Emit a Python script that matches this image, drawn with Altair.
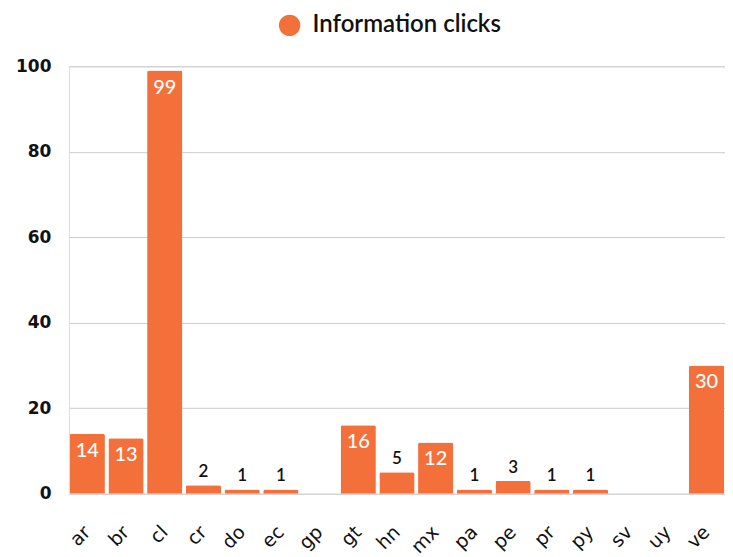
import altair as alt
import pandas as pd

countries = ["ar", "br", "cl", "cr", "do", "ec", "gp", "gt", "hn", "mx", "pa", "pe", "pr", "py", "sv", "uy", "ve"]
clicks = [14, 13, 99, 2, 1, 1, 0, 16, 5, 12, 1, 3, 1, 1, 0, 0, 30]
series = "Information clicks"

df = pd.DataFrame({"country": countries, "clicks": clicks, "series": series})

FONT = "Lato"
AXFONT = "DejaVu Sans"
ORANGE = "#F4703A"

x = alt.X("country:N", sort=countries, title=None,
          scale=alt.Scale(paddingInner=0.09, paddingOuter=0.02),
          axis=alt.Axis(labelAngle=-45, labelFontSize=19, labelColor="#111",
                        labelFont=AXFONT, labelPadding=35, ticks=False, domain=False,
                        labelAlign="right", labelBaseline="middle"))
y = alt.Y("clicks:Q", title=None, scale=alt.Scale(domain=[0, 100]),
          axis=alt.Axis(values=[0, 20, 40, 60, 80, 100], labelFontSize=17, labelFontWeight="bold",
                        labelFont=AXFONT, labelColor="#111", labelPadding=18, ticks=False,
                        domain=False, gridColor="#cccccc"))

bars = alt.Chart(df).mark_bar(cornerRadiusTopLeft=2, cornerRadiusTopRight=2).encode(
    x=x, y=y,
    color=alt.Color("series:N", scale=alt.Scale(range=[ORANGE]), title=None,
                    legend=alt.Legend(orient="none", legendX=209, legendY=-53,
                                      symbolType="circle", symbolSize=460, symbolStrokeWidth=0,
                                      labelFontSize=24, labelFont=FONT, labelFontWeight=600,
                                      labelColor="#111", symbolOpacity=1, labelOffset=11,
                                      labelLimit=400))
)

inside = alt.Chart(df).transform_filter("datum.clicks >= 10").mark_text(
    baseline="top", dy=7, fontSize=20, font=FONT, color="white", fontWeight=500
).encode(x=alt.X("country:N", sort=countries), y="clicks:Q", text="clicks:Q")

above = alt.Chart(df).transform_filter("datum.clicks > 0 && datum.clicks < 10").mark_text(
    baseline="bottom", dy=-4, fontSize=17, font=FONT, color="#111", fontWeight=600
).encode(x=alt.X("country:N", sort=countries), y="clicks:Q", text="clicks:Q")

chart = alt.layer(bars, inside, above).properties(
    width=657, height=428,
    padding={"left": 7, "top": 5, "right": 0, "bottom": 0}
).configure_view(stroke=None).configure(background="white")

chart.save("out.html", embed_options={"renderer": "svg", "actions": False})
